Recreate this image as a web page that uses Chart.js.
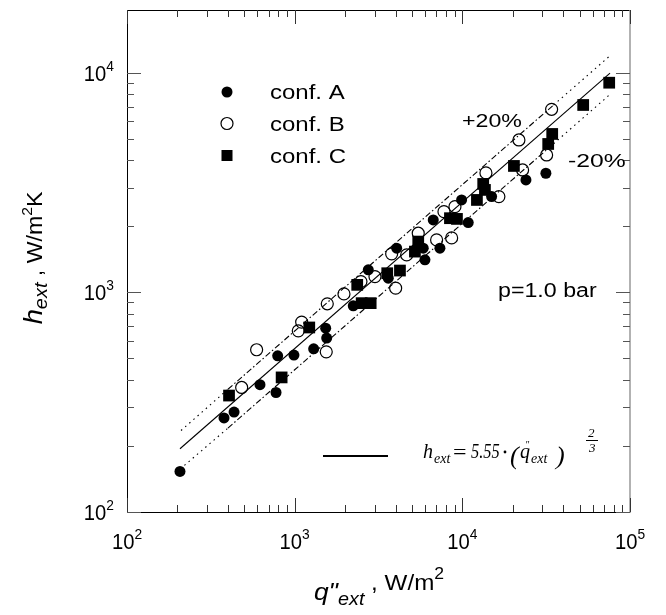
<!DOCTYPE html>
<html>
<head>
<meta charset="utf-8">
<script src="https://cdn.jsdelivr.net/npm/chart.js@4/dist/chart.umd.min.js"></script>
<style>
  html, body { margin: 0; padding: 0; background: #fff; }
  #wrap { width: 666px; height: 615px; }
</style>
</head>
<body>
<div id="wrap"><canvas id="chart"></canvas></div>
<script>
// q''ext (W/m2) and hext (W/m2K)
const confAq = [207, 379, 435, 621, 774, 792, 990, 1298, 1531, 1552, 2236, 2748, 3615, 4058, 5984, 5845, 7350, 6706, 9900, 10840, 14950, 23950, 31500];
const confAh = [153, 268, 285, 380, 350, 514, 518, 553, 687, 619, 868, 1266, 1160, 1589, 1406, 1589, 1589, 2138, 2635, 2078, 2729, 3250, 3486];

const confBq = [593, 483, 1051, 1101, 1543, 1565, 1968, 2485, 3012, 4002, 3788, 4655, 5458, 7024, 7770, 9036, 8634, 13830, 16520, 22880, 21750, 31820, 34080];
const confBh = [548, 369, 668, 732, 536, 887, 984, 1120, 1180, 1045, 1497, 1481, 1859, 1733, 2331, 2456, 1770, 3497, 2729, 3608, 4941, 4222, 6815];

const confCq = [406, 836, 1222, 2361, 2509, 2840, 3566, 4246, 5458, 5215, 8436, 9287, 13320, 13640, 12220, 20310, 32520, 34360, 52580, 75160];
const confCh = [339, 410, 692, 1082, 893, 893, 1222, 1257, 1703, 1533, 2176, 2160, 3116, 2927, 2635, 3763, 4738, 5262, 7130, 9006];

// correlation hext = 5.55 q^(2/3) and the +/-20% band (end points)
const fitQ = [207, 76000];
const fitH = [194, 9957];
const upperQ = [210, 400, 35000, 76000];
const upperH = [235, 362, 7126, 11950];
const lowerQ = [220, 400, 35000, 76000];
const lowerH = [163, 241, 4750, 7966];

// axes
const xMin = 100, xMax = 100000;
const yMin = 100, yMax = 19300;
const xDecades = [100, 1000, 10000, 100000];
const xExponents = ['2', '3', '4', '5'];
const yDecades = [100, 1000, 10000];
const yExponents = ['2', '3', '4'];

const legendLabels = ['conf. A', 'conf. B', 'conf. C'];

const SANS = '"Liberation Sans", Arial, Helvetica, sans-serif';
const SERIF = '"Liberation Serif", "Times New Roman", serif';

function pts(xs, ys) {
    return xs.map((x, i) => ({x: x, y: ys[i]}));
}

function logTicks(min, max) {
    let out = [];
    for (let e = 1; e <= 6; e++) {
        for (let m = 1; m <= 9; m++) {
            let v = m * Math.pow(10, e);
            if (v >= min && v <= max) out.push(v);
        }
    }
    return out;
}

function isDecade(v) {
    let l = Math.log10(v);
    return Math.abs(l - Math.round(l)) < 1e-9;
}

// draws a row of text pieces: [text, font, dy]
function runs(ctx, x, y, parts, align, sx, rot) {
    let w = 0;
    parts.forEach(p => { ctx.font = p[1]; w += ctx.measureText(p[0]).width; });
    let cx = align === 'center' ? -w / 2 : (align === 'right' ? -w : 0);
    ctx.save();
    ctx.translate(x, y);
    if (rot) ctx.rotate(rot);
    ctx.scale(sx || 1, 1);
    ctx.textBaseline = 'alphabetic';
    ctx.textAlign = 'left';
    parts.forEach(p => {
        ctx.font = p[1];
        ctx.fillText(p[0], cx, p[2] || 0);
        cx += ctx.measureText(p[0]).width;
    });
    ctx.restore();
}

function textAt(ctx, s, x, y, font, sx) {
    ctx.save();
    ctx.translate(x, y);
    ctx.scale(sx || 1, 1);
    ctx.font = font;
    ctx.textAlign = 'left';
    ctx.fillText(s, 0, 0);
    ctx.restore();
}

const dotted = [1.5, 4];
const dashDot = [6, 2.5, 1.5, 2.5];

const framePlugin = {
    id: 'frame',
    afterDraw(chart) {
        const ctx = chart.ctx;
        const a = chart.chartArea;
        const xs = chart.scales.x, ys = chart.scales.y;
        ctx.save();
        ctx.fillStyle = '#000';

        // frame
        ctx.lineWidth = 1;
        ctx.strokeStyle = '#000';
        ctx.beginPath();
        ctx.moveTo(a.right, a.top + 0.5);
        ctx.lineTo(a.left + 0.5, a.top + 0.5);
        ctx.lineTo(a.left + 0.5, a.bottom + 0.5);
        ctx.lineTo(a.right, a.bottom + 0.5);
        ctx.stroke();
        ctx.strokeStyle = '#999';
        ctx.lineWidth = 1.5;
        ctx.beginPath();
        ctx.moveTo(a.right, a.top);
        ctx.lineTo(a.right, a.bottom + 1);
        ctx.stroke();

        // inward tick marks on all four sides
        ctx.lineWidth = 1;
        xs.ticks.forEach(t => {
            const px = Math.round(xs.getPixelForValue(t.value)) + 0.5;
            const len = isDecade(t.value) ? 14 : 7;
            ctx.strokeStyle = '#333';
            ctx.beginPath();
            ctx.moveTo(px, a.bottom); ctx.lineTo(px, a.bottom - len);
            ctx.moveTo(px, a.top); ctx.lineTo(px, a.top + len);
            ctx.stroke();
        });
        ys.ticks.forEach(t => {
            const py = Math.round(ys.getPixelForValue(t.value)) + 0.5;
            const len = isDecade(t.value) ? 14 : 7;
            ctx.strokeStyle = '#555';
            ctx.beginPath();
            ctx.moveTo(a.left, py); ctx.lineTo(a.left + len, py);
            ctx.moveTo(a.right, py); ctx.lineTo(a.right - len, py);
            ctx.stroke();
        });

        // tick labels
        xDecades.forEach((v, i) => {
            runs(ctx, xs.getPixelForValue(v), 549,
                [['10', '22px ' + SANS], [xExponents[i], '15px ' + SANS, -10]], 'center', 0.92);
        });
        yDecades.forEach((v, i) => {
            runs(ctx, 114, ys.getPixelForValue(v) + 8,
                [['10', '22px ' + SANS], [yExponents[i], '15px ' + SANS, -10]], 'right', 0.92);
        });

        // axis titles
        runs(ctx, 379, 600, [
            ['q"', 'italic 24px ' + SANS],
            ['ext', 'italic 18px ' + SANS, 5],
            [' , W/m', '22px ' + SANS, -10],
            ['2', '16px ' + SANS, -21]
        ], 'center', 1.1);
        runs(ctx, 42, 258, [
            ['h', 'italic 26px ' + SANS],
            ['ext', 'italic 19px ' + SANS, 5],
            [' , W/m', '22px ' + SANS],
            ['2', '15px ' + SANS, -10],
            ['K', '22px ' + SANS]
        ], 'center', 1.05, -Math.PI / 2);

        // legend
        const lx = 227, lys = [92, 123.5, 155.5];
        ctx.beginPath(); ctx.arc(lx, lys[0], 5.5, 0, Math.PI * 2); ctx.fill();
        ctx.lineWidth = 1.2; ctx.strokeStyle = '#000';
        ctx.beginPath(); ctx.arc(lx, lys[1], 6, 0, Math.PI * 2); ctx.stroke();
        ctx.fillRect(lx - 5.5, lys[2] - 5.5, 11, 11);
        legendLabels.forEach((s, i) => {
            runs(ctx, 270, lys[i] + 7, [[s, '20px ' + SANS]], 'left', 1.2);
        });

        // annotations
        runs(ctx, 462, 127, [['+20%', '19px ' + SANS]], 'left', 1.22);
        runs(ctx, 568, 167, [['-20%', '19px ' + SANS]], 'left', 1.3);
        runs(ctx, 498, 297, [['p=1.0 bar', '20px ' + SANS]], 'left', 1.16);

        // equation key
        ctx.lineWidth = 2;
        ctx.strokeStyle = '#000';
        ctx.beginPath(); ctx.moveTo(323, 456); ctx.lineTo(388, 456); ctx.stroke();
        const it = 'italic 20px ' + SERIF, sub = 'italic 14px ' + SERIF;
        textAt(ctx, 'h', 423, 458, it);
        textAt(ctx, 'ext', 434, 463, sub);
        textAt(ctx, '=', 453, 459, '20px ' + SERIF, 1.2);
        textAt(ctx, '5.55', 471, 458, it, 0.82);
        ctx.beginPath(); ctx.arc(505, 452, 1.4, 0, Math.PI * 2); ctx.fill();
        textAt(ctx, '(', 510, 464, 'italic 26px ' + SERIF);
        textAt(ctx, 'q', 520, 458, it);
        textAt(ctx, '"', 525, 448, 'italic 10px ' + SERIF);
        textAt(ctx, 'ext', 531, 463, sub);
        textAt(ctx, ')', 556, 464, 'italic 26px ' + SERIF);
        textAt(ctx, '2', 588, 437, 'italic 13px ' + SERIF);
        textAt(ctx, '3', 589, 452, 'italic 13px ' + SERIF);
        ctx.lineWidth = 1;
        ctx.beginPath(); ctx.moveTo(586, 440.5); ctx.lineTo(598, 440.5); ctx.stroke();

        ctx.restore();
    }
};

const chart = new Chart(document.getElementById('chart'), {
    type: 'scatter',
    data: {
        datasets: [{
            label: legendLabels[0],
            data: pts(confAq, confAh),
            pointStyle: 'circle',
            pointRadius: 5.5,
            backgroundColor: '#000',
            borderColor: '#000',
            borderWidth: 0
        }, {
            label: legendLabels[1],
            data: pts(confBq, confBh),
            pointStyle: 'circle',
            pointRadius: 6,
            backgroundColor: 'rgba(0,0,0,0)',
            borderColor: '#000',
            borderWidth: 1.2
        }, {
            label: legendLabels[2],
            data: pts(confCq, confCh),
            pointStyle: 'rect',
            pointRadius: 8.3,
            backgroundColor: '#000',
            borderColor: '#000',
            borderWidth: 0
        }, {
            label: 'fit',
            data: pts(fitQ, fitH),
            showLine: true,
            pointRadius: 0,
            borderColor: '#000',
            borderWidth: 1.1
        }, {
            label: '+20%',
            data: pts(upperQ, upperH),
            showLine: true,
            pointRadius: 0,
            borderColor: '#000',
            borderWidth: 1.1,
            segment: { borderDash: c => c.p0DataIndex === 1 ? dashDot : dotted }
        }, {
            label: '-20%',
            data: pts(lowerQ, lowerH),
            showLine: true,
            pointRadius: 0,
            borderColor: '#000',
            borderWidth: 1.1,
            segment: { borderDash: c => c.p0DataIndex === 1 ? dashDot : dotted }
        }]
    },
    options: {
        responsive: true,
        maintainAspectRatio: false,
        animation: false,
        layout: { padding: { top: 10, right: 36, left: 0, bottom: 0 } },
        plugins: {
            legend: { display: false },
            tooltip: { enabled: false }
        },
        scales: {
            x: {
                type: 'logarithmic',
                min: xMin,
                max: xMax,
                grid: { display: false, drawTicks: false },
                border: { display: false },
                ticks: { display: false },
                afterBuildTicks: s => { s.ticks = logTicks(xMin, xMax).map(v => ({value: v})); },
                afterFit: s => { s.height = 103; }
            },
            y: {
                type: 'logarithmic',
                min: yMin,
                max: yMax,
                grid: { display: false, drawTicks: false },
                border: { display: false },
                ticks: { display: false },
                afterBuildTicks: s => { s.ticks = logTicks(yMin, yMax).map(v => ({value: v})); },
                afterFit: s => { s.width = 127; }
            }
        }
    },
    plugins: [framePlugin]
});
</script>
</body>
</html>
